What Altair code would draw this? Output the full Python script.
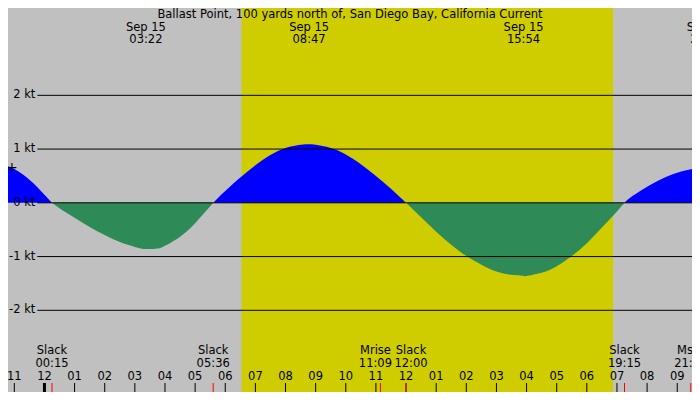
import pandas as pd
import altair as alt

# tidal current, hours after midnight Sep 15 -> knots
hours = [-1.25, -1.0, -0.75, -0.5, -0.25, 0.0, 0.25,
         0.5, 1.0, 1.5, 2.0, 2.5, 3.0, 3.37, 3.75, 4.0, 4.5, 5.0, 5.6,
         6.0, 6.5, 7.0, 7.5, 8.0, 8.5, 8.78, 9.0, 9.5, 10.0, 10.5, 11.0, 11.5, 12.0,
         12.5, 13.0, 13.5, 14.0, 14.5, 15.0, 15.5, 15.9, 16.0, 16.5, 17.0, 17.5,
         18.0, 18.5, 19.0, 19.25,
         19.5, 20.0, 20.5, 21.0, 21.5, 21.75]
knots = [0.69, 0.63, 0.54, 0.43, 0.30, 0.15, 0.0,
         -0.10, -0.28, -0.45, -0.60, -0.73, -0.82, -0.86, -0.85, -0.80, -0.63, -0.38, 0.0,
         0.22, 0.47, 0.70, 0.89, 1.02, 1.08, 1.09, 1.08, 1.02, 0.90, 0.72, 0.50, 0.26, 0.0,
         -0.27, -0.54, -0.78, -0.99, -1.15, -1.28, -1.34, -1.36, -1.36, -1.30, -1.18, -0.99,
         -0.75, -0.46, -0.16, 0.0,
         0.12, 0.30, 0.45, 0.56, 0.63, 0.66]

# max / min current labels along the top
extreme_times = [3.367, 8.783, 15.9, 21.98]
extreme_dates = ["Sep 15", "Sep 15", "Sep 15", "Sep 15"]
extreme_clock = ["03:22", "08:47", "15:54", "21:59"]

# slack and moon events along the bottom
event_times = [0.25, 5.6, 11.15, 12.0, 19.25, 21.45]
event_names = ["Slack", "Slack", "Mrise", "Slack", "Slack", "Mset"]
event_clock = ["00:15", "05:36", "11:09", "12:00", "19:15", "21:27"]
event_shift = [0, 0, -5, 5, 0, 0]

hour_ticks = list(range(-1, 22))
hour_names = ["11", "12", "01", "02", "03", "04", "05", "06", "07", "08", "09", "10",
              "11", "12", "01", "02", "03", "04", "05", "06", "07", "08", "09"]

kt_levels = [2, 1, 0, -1, -2]
kt_names = ["2 kt", "1 kt", "0 kt", "-1 kt", "-2 kt"]

sunrise, sunset = 6.54, 18.87
title = "Ballast Point, 100 yards north of, San Diego Bay, California Current"

W, H = 684, 384
SX, SY = W / 700, H / 400
FONT = "DejaVu Sans"
FS = 11.5

xs = alt.Scale(domain=[-1.21, 21.49], nice=False, zero=False)
ys = alt.Scale(domain=[-3.52, 3.625], nice=False, zero=False)

# split the curve at each slack so that every flood / ebb is its own area
rows, seg = [], 0
for i, (h, v) in enumerate(zip(hours, knots)):
    rows.append({"h": h, "v": v, "seg": seg})
    if v == 0 and 0 < i < len(hours) - 1:
        seg += 1
        rows.append({"h": h, "v": v, "seg": seg})
curve = pd.DataFrame(rows)
curve["dir"] = curve.groupby("seg")["v"].transform("sum").map(lambda s: "flood" if s > 0 else "ebb")

extremes = pd.DataFrame({"h": extreme_times, "d": extreme_dates, "t": extreme_clock})
events = pd.DataFrame({"h": event_times, "name": event_names, "t": event_clock, "s": event_shift})
ticks = pd.DataFrame({"h": hour_ticks, "lab": hour_names})
levels = pd.DataFrame({"v": kt_levels, "lab": kt_names})
day = pd.DataFrame({"a": [sunrise], "b": [sunset]})

X = lambda f: alt.X(f, scale=xs, axis=None)
Y = lambda f: alt.Y(f, scale=ys, axis=None, stack=None)

daylight = alt.Chart(day).mark_rect(color="#CFCD00").encode(
    x=X("a:Q"), x2="b:Q", y=alt.value(0), y2=alt.value(H)
)

current = alt.Chart(curve).transform_calculate(zero="0").mark_area(
    interpolate="natural", clip=True
).encode(
    x=X("h:Q"), y=Y("v:Q"), y2="zero:Q", detail="seg:N",
    color=alt.Color("dir:N", scale=alt.Scale(domain=["flood", "ebb"],
                                              range=["#0000FF", "#2E8B57"]), legend=None),
)

grid = alt.Chart(levels).mark_rule(color="black", strokeWidth=1).encode(
    y=Y("v:Q"), x=alt.value(30 * SX), x2=alt.value(W)
)
grid_text = alt.Chart(levels).mark_text(
    align="right", baseline="middle", font=FONT, fontSize=FS, color="black"
).encode(y=Y("v:Q"), x=alt.value(28 * SX), text="lab:N")

txt = dict(align="center", baseline="middle", font=FONT, fontSize=FS, color="black", clip=True)

title_mark = alt.Chart(pd.DataFrame({"t": [title]})).mark_text(
    align="center", baseline="middle", font=FONT, fontSize=FS, color="black"
).encode(x=alt.value(350 * SX), y=alt.value(7), text="t:N")
top_date = alt.Chart(extremes).mark_text(**txt).encode(
    x=X("h:Q"), y=alt.value(19.5), text="d:N"
)
top_time = alt.Chart(extremes).mark_text(**txt).encode(
    x=X("h:Q"), y=alt.value(32), text="t:N"
)

hour_rules = alt.Chart(ticks).mark_rule(color="black").encode(
    x=X("h:Q"), y=alt.value(H - 9), y2=alt.value(H)
)
hour_text = alt.Chart(ticks).mark_text(**txt).encode(
    x=X("h:Q"), y=alt.value(H - 15), text="lab:N"
)
midnight = alt.Chart(ticks).transform_filter("datum.h == 0").mark_rule(
    color="black", strokeWidth=3
).encode(x=X("h:Q"), y=alt.value(H - 9), y2=alt.value(H))

event_rules = alt.Chart(events).mark_rule(color="red", clip=True).encode(
    x=X("h:Q"), y=alt.value(H - 9), y2=alt.value(H)
)
event_layers = []
for shift in sorted(set(event_shift)):
    sub = alt.Chart(events).transform_filter(f"datum.s == {shift}")
    event_layers.append(sub.mark_text(dx=shift, **txt).encode(
        x=X("h:Q"), y=alt.value(H - 41), text="name:N"))
    event_layers.append(sub.mark_text(dx=shift, **txt).encode(
        x=X("h:Q"), y=alt.value(H - 28), text="t:N"))

marker = alt.Chart(pd.DataFrame({"t": ["+"]})).mark_text(
    align="center", baseline="middle", font=FONT, fontSize=14, color="black"
).encode(x=alt.value(4 * SX), y=alt.value(167 * SY), text="t:N")

chart = alt.layer(
    daylight, current, grid, grid_text, title_mark, top_date, top_time,
    hour_rules, midnight, event_rules, hour_text, *event_layers, marker
).properties(
    width=W, height=H, background="#C0C0C0", padding=0, autosize="none"
).configure_view(strokeWidth=0)

chart.save("out.html", embed_options={"renderer": "svg", "actions": False})
